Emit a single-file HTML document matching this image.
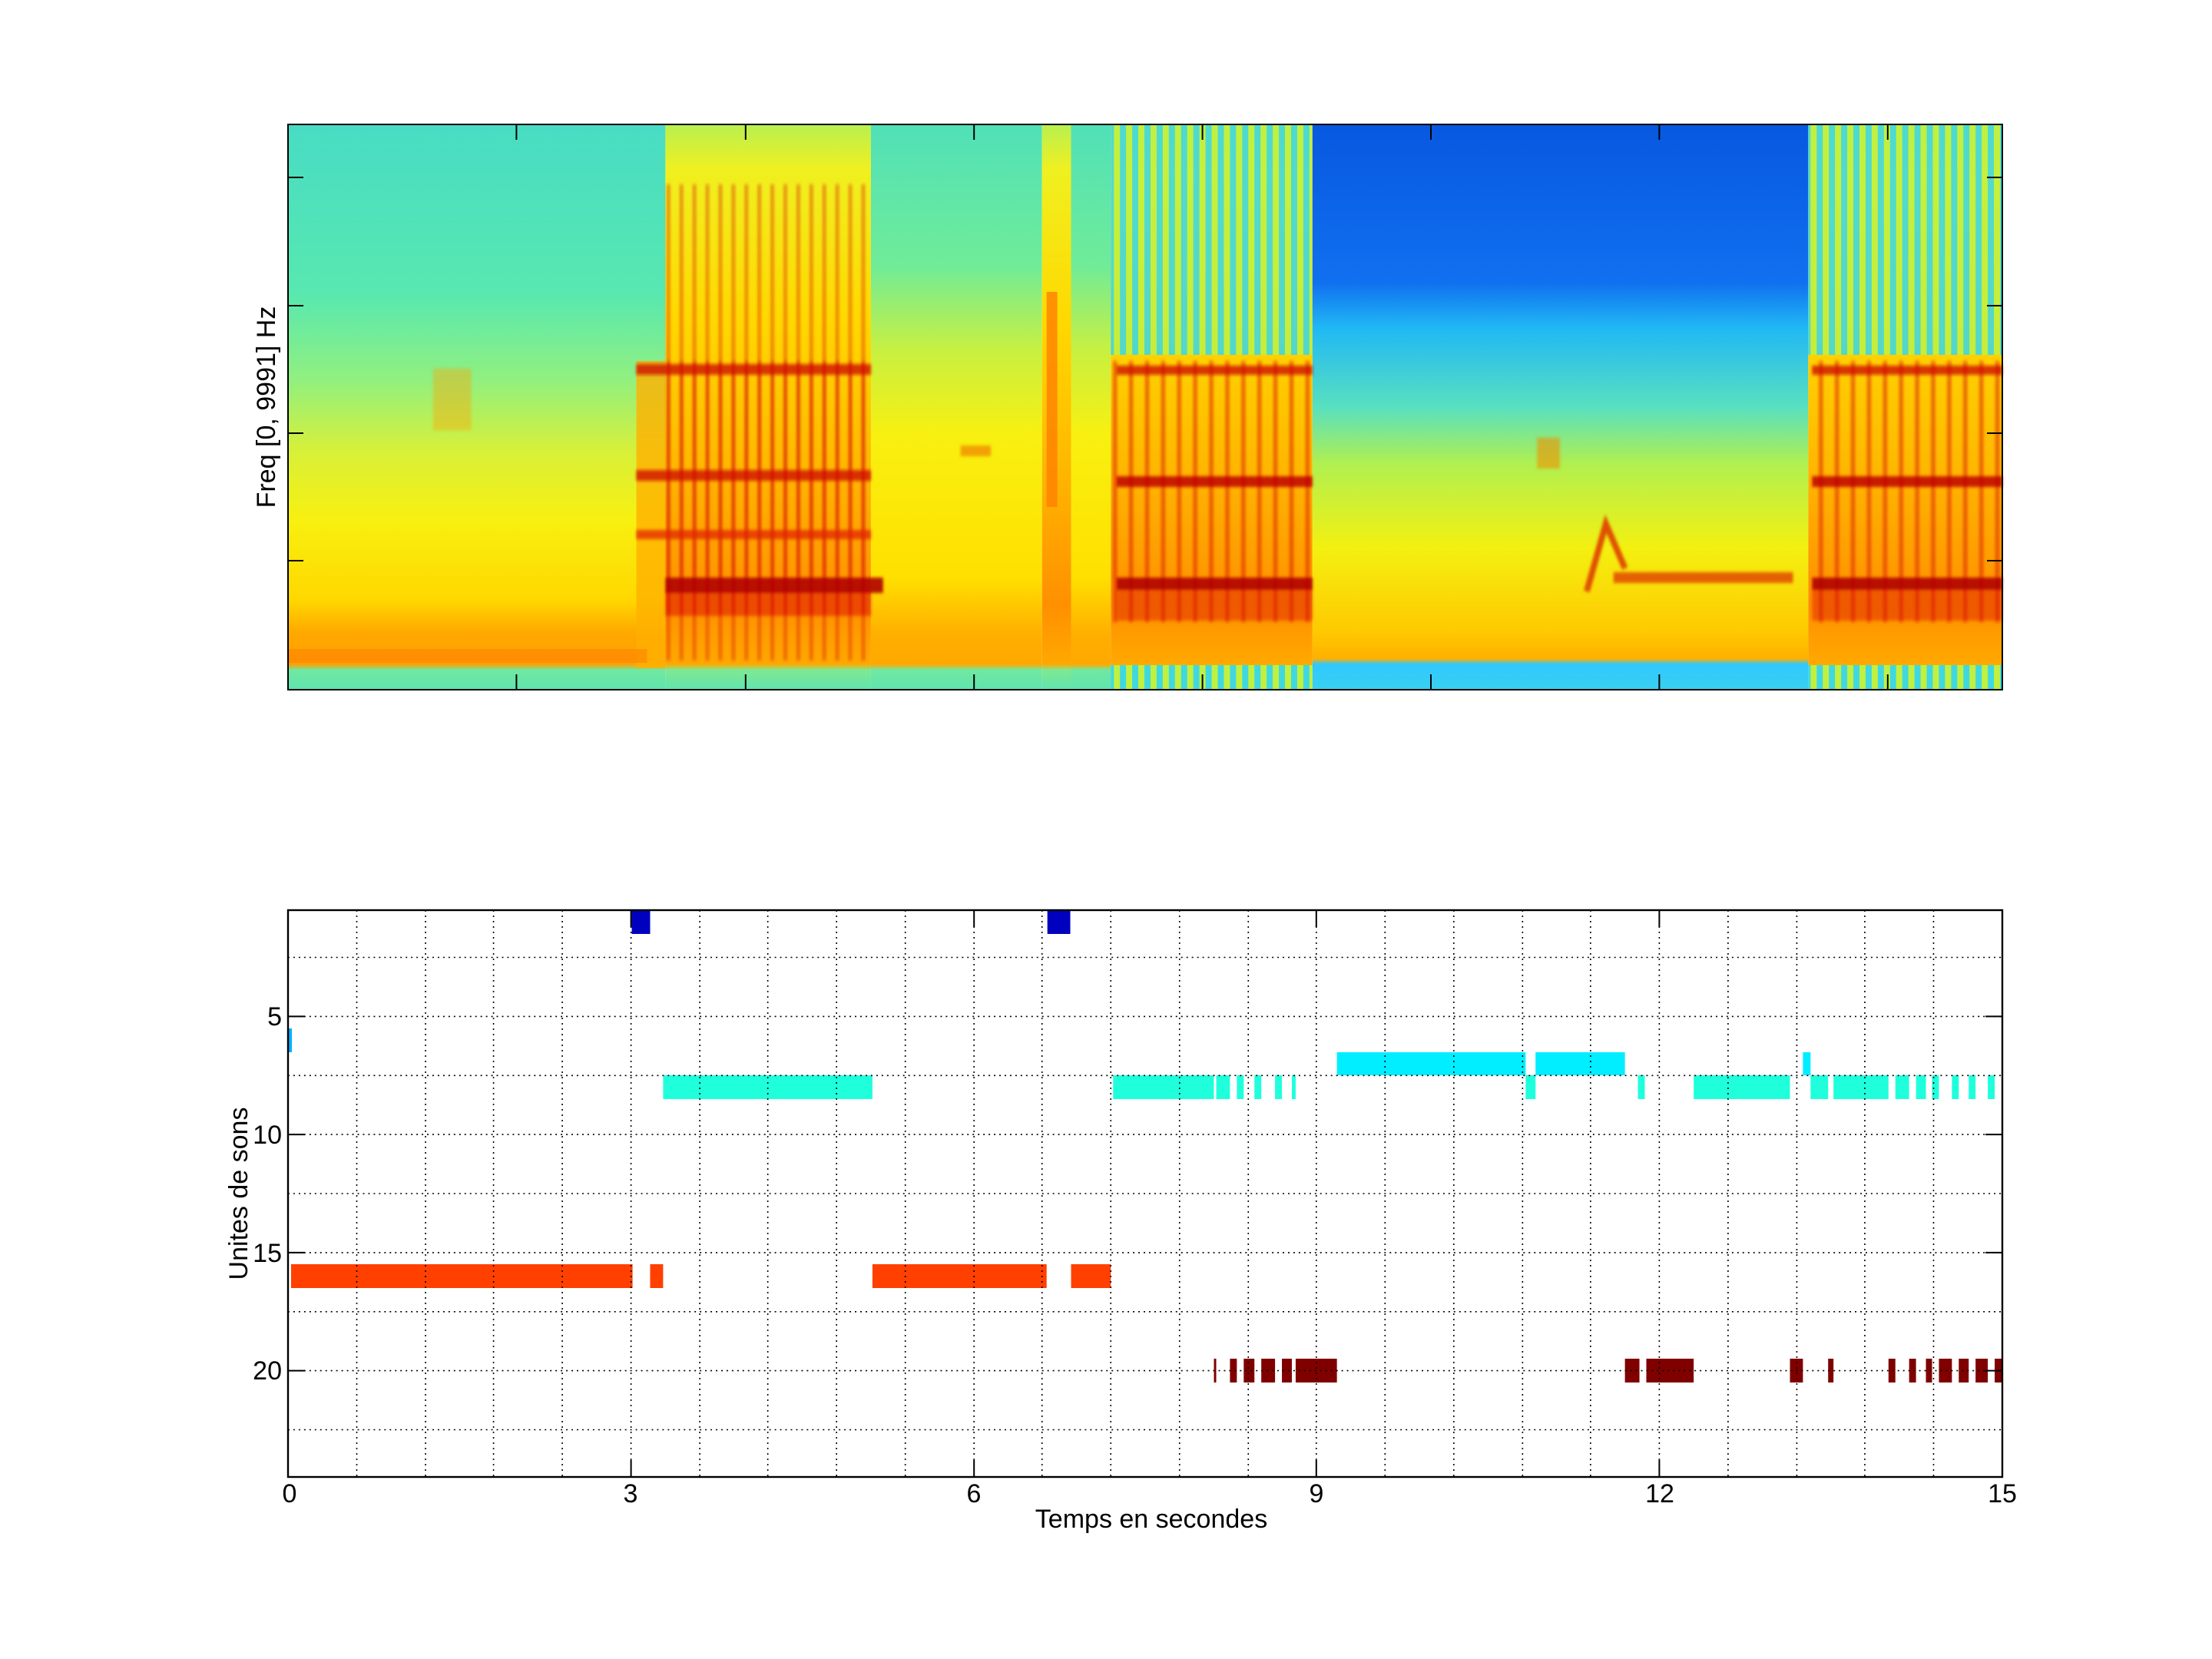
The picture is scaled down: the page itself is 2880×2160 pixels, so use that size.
<!DOCTYPE html>
<html><head><meta charset="utf-8"><style>html,body{margin:0;padding:0;background:#fff}svg{display:block}</style></head><body>
<svg xmlns="http://www.w3.org/2000/svg" width="2880" height="2160" viewBox="0 0 2880 2160" font-family="Liberation Sans, sans-serif">
<defs>
<linearGradient id="gA" x1="0" y1="0" x2="0" y2="1">
<stop offset="0" stop-color="#48dcc4"/><stop offset="0.3" stop-color="#58e8b0"/><stop offset="0.45" stop-color="#90f080"/><stop offset="0.58" stop-color="#d8f038"/><stop offset="0.7" stop-color="#f8f010"/><stop offset="0.84" stop-color="#ffd800"/><stop offset="0.9" stop-color="#ffa800"/><stop offset="0.955" stop-color="#ffa000"/><stop offset="0.965" stop-color="#70e8a0"/><stop offset="1" stop-color="#60e4b0"/>
</linearGradient>
<linearGradient id="gM" x1="0" y1="0" x2="0" y2="1">
<stop offset="0" stop-color="#50e0b8"/><stop offset="0.25" stop-color="#70ec98"/><stop offset="0.4" stop-color="#c8f040"/><stop offset="0.55" stop-color="#f8f010"/><stop offset="0.8" stop-color="#ffe000"/><stop offset="0.9" stop-color="#ffb000"/><stop offset="0.955" stop-color="#ffa800"/><stop offset="0.965" stop-color="#70e8a0"/><stop offset="1" stop-color="#60e4b0"/>
</linearGradient>
<linearGradient id="gS" x1="0" y1="0" x2="0" y2="1">
<stop offset="0" stop-color="#b8f050"/><stop offset="0.08" stop-color="#f0f020"/><stop offset="0.35" stop-color="#ffd800"/><stop offset="0.6" stop-color="#ffb800"/><stop offset="0.85" stop-color="#ff9000"/><stop offset="0.955" stop-color="#ffa800"/><stop offset="0.965" stop-color="#80e890"/><stop offset="1" stop-color="#60e4b0"/>
</linearGradient>
<linearGradient id="gB" x1="0" y1="0" x2="0" y2="1">
<stop offset="0" stop-color="#0858e0"/><stop offset="0.28" stop-color="#1070f0"/><stop offset="0.36" stop-color="#20b8f4"/><stop offset="0.5" stop-color="#58e0c0"/><stop offset="0.6" stop-color="#b0f050"/><stop offset="0.75" stop-color="#f4f010"/><stop offset="0.9" stop-color="#ffc800"/><stop offset="0.945" stop-color="#ffb000"/><stop offset="0.955" stop-color="#30c8ff"/><stop offset="1" stop-color="#38d0f0"/>
</linearGradient>
<pattern id="stripes" x="0" y="0" width="16" height="10" patternUnits="userSpaceOnUse">
<rect width="16" height="10" fill="#40d8e0"/><rect width="8" height="10" fill="#c0f040"/>
</pattern>
<pattern id="redv1" x="869" y="0" width="17" height="10" patternUnits="userSpaceOnUse">
<rect x="2" width="4" height="10" fill="#d81000"/>
</pattern>
<pattern id="redv2" x="1452" y="0" width="21" height="10" patternUnits="userSpaceOnUse">
<rect x="3" width="5" height="10" fill="#d81000"/>
</pattern>
<filter id="bl"><feGaussianBlur stdDeviation="2"/></filter>
</defs>

<g transform="translate(375,0) scale(0.99465,1) translate(-375,0)">
<!-- spectrogram -->
<rect x="375" y="162" width="494" height="736" fill="url(#gA)"/>
<rect x="831" y="470" width="38" height="400" fill="#ffb000" opacity="0.8"/>
<rect x="869" y="162" width="269" height="736" fill="url(#gS)"/>
<rect x="1138" y="162" width="224" height="736" fill="url(#gM)"/>
<rect x="1362" y="162" width="38" height="736" fill="url(#gS)"/>
<rect x="1368" y="380" width="14" height="280" fill="#ff8000" opacity="0.8"/>
<rect x="1400" y="162" width="52" height="736" fill="url(#gM)"/>
<rect x="1452" y="162" width="264" height="736" fill="url(#gS)"/>
<rect x="1452" y="162" width="264" height="300" fill="url(#stripes)" opacity="0.9"/>
<rect x="1716" y="162" width="649" height="736" fill="url(#gB)"/>
<rect x="2365" y="162" width="254" height="736" fill="url(#gS)"/>
<rect x="2365" y="162" width="254" height="300" fill="url(#stripes)" opacity="0.9"/>
<rect x="1452" y="866" width="264" height="32" fill="url(#stripes)"/>
<rect x="2365" y="866" width="254" height="32" fill="url(#stripes)"/>
<rect x="375" y="845" width="470" height="18" fill="#ff8800" opacity="0.7"/>
<g filter="url(#bl)">
<rect x="869" y="240" width="269" height="620" fill="url(#redv1)" opacity="0.45"/>
<rect x="869" y="470" width="269" height="330" fill="url(#redv1)" opacity="0.6"/>
<rect x="831" y="474" width="307" height="14" fill="#d01000" opacity="0.8"/>
<rect x="831" y="612" width="307" height="14" fill="#d01000" opacity="0.8"/>
<rect x="831" y="690" width="307" height="12" fill="#e02000" opacity="0.7"/>
<rect x="869" y="752" width="285" height="20" fill="#b00000" opacity="0.9"/>
<rect x="869" y="772" width="269" height="30" fill="#e02000" opacity="0.6"/>
<rect x="1452" y="470" width="264" height="340" fill="url(#redv2)" opacity="0.55"/>
<rect x="1460" y="476" width="256" height="12" fill="#d01000" opacity="0.8"/>
<rect x="1460" y="620" width="256" height="14" fill="#c00000" opacity="0.85"/>
<rect x="1460" y="752" width="256" height="16" fill="#b00000" opacity="0.9"/>
<rect x="1460" y="768" width="256" height="40" fill="#e02000" opacity="0.5"/>
<rect x="2365" y="470" width="254" height="340" fill="url(#redv2)" opacity="0.55"/>
<rect x="2370" y="476" width="249" height="12" fill="#d01000" opacity="0.8"/>
<rect x="2370" y="620" width="249" height="14" fill="#c00000" opacity="0.85"/>
<rect x="2370" y="752" width="249" height="16" fill="#b00000" opacity="0.9"/>
<rect x="2370" y="768" width="249" height="40" fill="#e02000" opacity="0.5"/>
<rect x="2110" y="745" width="235" height="14" fill="#e04000" opacity="0.8"/>
<path d="M2075 770 L2100 682 L2125 740" stroke="#e05000" stroke-width="8" fill="none"/>
<rect x="1255" y="580" width="40" height="14" fill="#f08000" opacity="0.7"/>
<rect x="2010" y="570" width="30" height="40" fill="#f09000" opacity="0.6"/>
<rect x="565" y="480" width="50" height="80" fill="#ffa000" opacity="0.4"/>
</g>
<g stroke="#000" stroke-width="2">
<line x1="674" y1="162" x2="674" y2="182"/><line x1="674" y1="898" x2="674" y2="878"/>
<line x1="974" y1="162" x2="974" y2="182"/><line x1="974" y1="898" x2="974" y2="878"/>
<line x1="1273" y1="162" x2="1273" y2="182"/><line x1="1273" y1="898" x2="1273" y2="878"/>
<line x1="1572" y1="162" x2="1572" y2="182"/><line x1="1572" y1="898" x2="1572" y2="878"/>
<line x1="1871" y1="162" x2="1871" y2="182"/><line x1="1871" y1="898" x2="1871" y2="878"/>
<line x1="2170" y1="162" x2="2170" y2="182"/><line x1="2170" y1="898" x2="2170" y2="878"/>
<line x1="2469" y1="162" x2="2469" y2="182"/><line x1="2469" y1="898" x2="2469" y2="878"/>
</g>

<!-- bars -->
<rect x="825" y="1185" width="24" height="31" fill="#0000bf"/>
<rect x="1369" y="1185" width="30" height="31" fill="#0000bf"/>
<rect x="375" y="1339" width="5" height="31" fill="#00b0ff"/>
<rect x="379" y="1646" width="447" height="31" fill="#ff4000"/>
<rect x="849" y="1646" width="17" height="31" fill="#ff4000"/>
<rect x="1140" y="1646" width="228" height="31" fill="#ff4000"/>
<rect x="1400" y="1646" width="52" height="31" fill="#ff4000"/>
<g fill="#20ffdc">
<rect x="866" y="1400" width="274" height="31"/>
<rect x="1455" y="1400" width="132" height="31"/>
<rect x="1590" y="1400" width="18" height="31"/>
<rect x="1617" y="1400" width="9" height="31"/>
<rect x="1640" y="1400" width="9" height="31"/>
<rect x="1667" y="1400" width="9" height="31"/>
<rect x="1689" y="1400" width="5" height="31"/>
<rect x="1995" y="1400" width="13" height="31"/>
<rect x="2142" y="1400" width="9" height="31"/>
<rect x="2215" y="1400" width="126" height="31"/>
<rect x="2368" y="1400" width="23" height="31"/>
<rect x="2398" y="1400" width="72" height="31"/>
<rect x="2479" y="1400" width="18" height="31"/>
<rect x="2506" y="1400" width="13" height="31"/>
<rect x="2527" y="1400" width="9" height="31"/>
<rect x="2553" y="1400" width="9" height="31"/>
<rect x="2575" y="1400" width="9" height="31"/>
<rect x="2600" y="1400" width="9" height="31"/>
</g>
<g fill="#00eeff">
<rect x="1748" y="1370" width="247" height="30"/>
<rect x="2008" y="1370" width="117" height="30"/>
<rect x="2358" y="1370" width="10" height="30"/>
</g>
<g fill="#800000">
<rect x="1587" y="1769" width="3" height="31"/>
<rect x="1608" y="1769" width="9" height="31"/>
<rect x="1626" y="1769" width="14" height="31"/>
<rect x="1649" y="1769" width="18" height="31"/>
<rect x="1676" y="1769" width="13" height="31"/>
<rect x="1694" y="1769" width="54" height="31"/>
<rect x="2125" y="1769" width="19" height="31"/>
<rect x="2153" y="1769" width="62" height="31"/>
<rect x="2341" y="1769" width="17" height="31"/>
<rect x="2391" y="1769" width="7" height="31"/>
<rect x="2470" y="1769" width="9" height="31"/>
<rect x="2497" y="1769" width="9" height="31"/>
<rect x="2519" y="1769" width="8" height="31"/>
<rect x="2536" y="1769" width="17" height="31"/>
<rect x="2562" y="1769" width="13" height="31"/>
<rect x="2584" y="1769" width="16" height="31"/>
<rect x="2609" y="1769" width="10" height="31"/>
</g>
<g stroke="#000" stroke-width="1.6" stroke-dasharray="2,5" fill="none">
<path d="M465 1185V1923M555 1185V1923M644 1185V1923M734 1185V1923M824 1185V1923M914 1185V1923M1003 1185V1923M1093 1185V1923M1183 1185V1923M1273 1185V1923M1362 1185V1923M1452 1185V1923M1542 1185V1923M1632 1185V1923M1721 1185V1923M1811 1185V1923M1901 1185V1923M1991 1185V1923M2080 1185V1923M2170 1185V1923M2260 1185V1923M2350 1185V1923M2439 1185V1923M2529 1185V1923"/>
<path d="M375 1246.5H2619M375 1323.4H2619M375 1400.3H2619M375 1477.1H2619M375 1554H2619M375 1630.9H2619M375 1707.8H2619M375 1784.6H2619M375 1861.5H2619"/>
</g>
<g stroke="#000" stroke-width="2">
<path d="M824 1923v-22M1273 1923v-22M1721 1923v-22M2170 1923v-22M824 1185v22M1273 1185v22M1721 1185v22M2170 1185v22"/>
</g>
</g>

<!-- frames and y ticks -->
<rect x="375" y="162" width="2232" height="736" fill="none" stroke="#000" stroke-width="2"/>
<g stroke="#000" stroke-width="2">
<line x1="375" y1="231" x2="395" y2="231"/><line x1="375" y1="398" x2="395" y2="398"/><line x1="375" y1="564" x2="395" y2="564"/><line x1="375" y1="730" x2="395" y2="730"/>
<line x1="2587" y1="231" x2="2607" y2="231"/><line x1="2587" y1="398" x2="2607" y2="398"/><line x1="2587" y1="564" x2="2607" y2="564"/><line x1="2587" y1="730" x2="2607" y2="730"/>
<path d="M375 1323.4h22M375 1477.1h22M375 1630.9h22M375 1784.6h22M2607 1323.4h-22M2607 1477.1h-22M2607 1630.9h-22M2607 1784.6h-22"/>
</g>
<rect x="375" y="1185" width="2232" height="738" fill="none" stroke="#000" stroke-width="2.4"/>
<text x="0" y="0" font-size="34" text-anchor="middle" transform="translate(358,530) rotate(-90)">Freq [0, 9991] Hz</text>
<g font-size="34" fill="#000">
<text x="367" y="1335" text-anchor="end">5</text>
<text x="367" y="1489" text-anchor="end">10</text>
<text x="367" y="1643" text-anchor="end">15</text>
<text x="367" y="1796" text-anchor="end">20</text>
<g text-anchor="middle">
<text x="377" y="1956">0</text>
<text x="821" y="1956">3</text>
<text x="1268" y="1956">6</text>
<text x="1714" y="1956">9</text>
<text x="2161" y="1956">12</text>
<text x="2607" y="1956">15</text>
<text x="1499" y="1989">Temps en secondes</text>
</g>
<text x="0" y="0" text-anchor="middle" transform="translate(322,1554) rotate(-90)">Unites de sons</text>
</g>
</svg>
</body></html>
